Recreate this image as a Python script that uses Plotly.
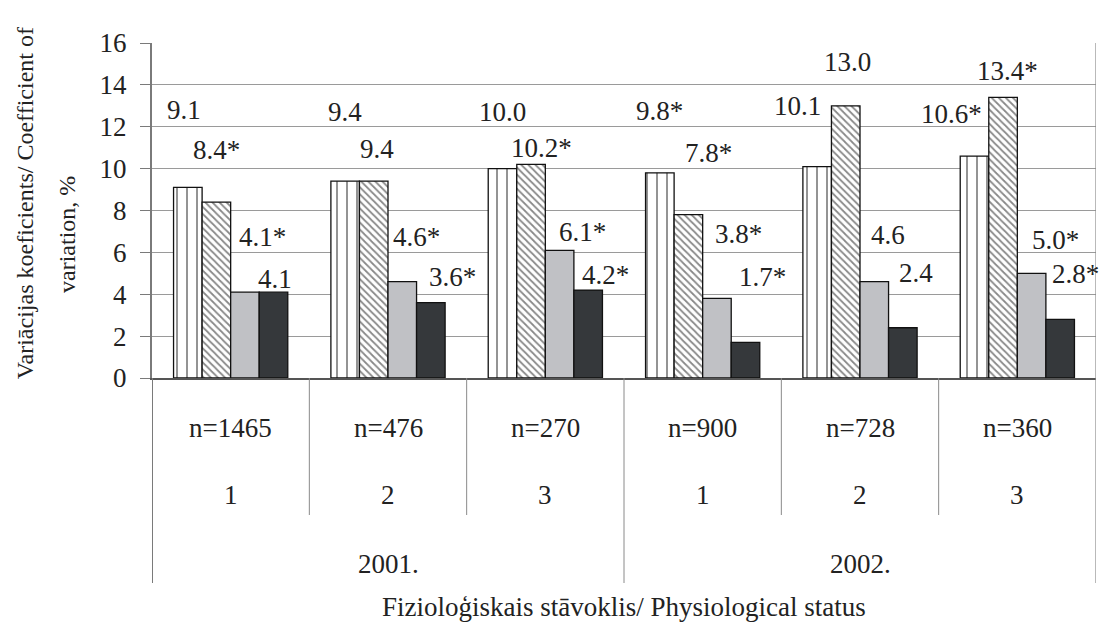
import plotly.graph_objects as go

# ---- data ----
groups = ["n=1465", "n=476", "n=270", "n=900", "n=728", "n=360"]
status = ["1", "2", "3", "1", "2", "3"]
years = ["2001.", "2002."]

s1_values = [9.1, 9.4, 10.0, 9.8, 10.1, 10.6]
s2_values = [8.4, 9.4, 10.2, 7.8, 13.0, 13.4]
s3_values = [4.1, 4.6, 6.1, 3.8, 4.6, 5.0]
s4_values = [4.1, 3.6, 4.2, 1.7, 2.4, 2.8]

s1_labels = ["9.1", "9.4", "10.0", "9.8*", "10.1", "10.6*"]
s2_labels = ["8.4*", "9.4", "10.2*", "7.8*", "13.0", "13.4*"]
s3_labels = ["4.1*", "4.6*", "6.1*", "3.8*", "4.6", "5.0*"]
s4_labels = ["4.1", "3.6*", "4.2*", "1.7*", "2.4", "2.8*"]

y_ticks = [0, 2, 4, 6, 8, 10, 12, 14, 16]

# ---- label placement (as in the original, labels were moved by hand) ----
s1_lab_y = [12.8, 12.7, 12.7, 12.75, 13.0, 12.6]
s2_lab_y = [10.9, 10.94, 10.98, 10.77, 15.07, 14.66]
s3_lab_y = [6.75, 6.73, 6.99, 6.88, 6.83, 6.59]
s4_lab_y = [4.73, 4.82, 4.92, 4.84, 5.01, 4.97]
s1_lab_dx = [-4, 0, 0, 0, -20, -23]
s2_lab_dx = [0, 3, 10, 20, 2, 4]
s3_lab_dx = [18, 14, 23, 22, 14, 24]
s4_lab_dx = [1, 22, 17, 17, 13, 15]

FONT = "Liberation Serif"
TXT = "#222222"
FS = 27

xs = list(range(len(groups)))
bargap = 0.274

fig = go.Figure()
line = dict(color="#111111", width=1.3)
fig.add_trace(go.Bar(x=xs, y=s1_values, marker=dict(color="white", line=line,
                     pattern=dict(shape="|", fgcolor="#111111", bgcolor="white", size=10, solidity=0.18))))
fig.add_trace(go.Bar(x=xs, y=s2_values, marker=dict(color="white", line=line,
                     pattern=dict(shape="\\", fgcolor="#111111", bgcolor="white", size=5, solidity=0.35))))
fig.add_trace(go.Bar(x=xs, y=s3_values, marker=dict(color="#c0c1c5", line=line)))
fig.add_trace(go.Bar(x=xs, y=s4_values, marker=dict(color="#35383b", line=line)))

w = (1 - bargap) / 4
offsets = [-1.5 * w, -0.5 * w, 0.5 * w, 1.5 * w]
annotations = []
for k, (labs, ly, ldx) in enumerate([(s1_labels, s1_lab_y, s1_lab_dx),
                                      (s2_labels, s2_lab_y, s2_lab_dx),
                                      (s3_labels, s3_lab_y, s3_lab_dx),
                                      (s4_labels, s4_lab_y, s4_lab_dx)]):
    for i in range(len(groups)):
        annotations.append(dict(x=xs[i] + offsets[k], y=ly[i], xref="x", yref="y",
                                text=labs[i], showarrow=False, xshift=ldx[i],
                                xanchor="center", yanchor="middle",
                                font=dict(family=FONT, size=FS, color=TXT)))

# table under the axis
for i in range(len(groups)):
    annotations.append(dict(x=xs[i], y=0, xref="x", yref="paper", yshift=-50,
                            text=groups[i], showarrow=False, yanchor="middle",
                            font=dict(family=FONT, size=FS, color=TXT)))
    annotations.append(dict(x=xs[i], y=0, xref="x", yref="paper", yshift=-117,
                            text=status[i], showarrow=False, yanchor="middle",
                            font=dict(family=FONT, size=FS, color=TXT)))
for j, yr in enumerate(years):
    annotations.append(dict(x=1 + 3 * j, y=0, xref="x", yref="paper", yshift=-186,
                            text=yr, showarrow=False, yanchor="middle",
                            font=dict(family=FONT, size=FS, color=TXT)))
annotations.append(dict(x=0.5, y=0, xref="paper", yref="paper", yshift=-229,
                        text="Fizioloģiskais stāvoklis/ Physiological status",
                        showarrow=False, yanchor="middle",
                        font=dict(family=FONT, size=FS, color=TXT)))
annotations.append(dict(x=0, y=0.522, xref="paper", yref="paper", xshift=-127,
                        text="Variācijas koeficients/ Coefficient of", textangle=-90,
                        showarrow=False, xanchor="center", yanchor="middle",
                        font=dict(family=FONT, size=24, color=TXT)))
annotations.append(dict(x=0, y=0.427, xref="paper", yref="paper", xshift=-85,
                        text="variation, %", textangle=-90,
                        showarrow=False, xanchor="center", yanchor="middle",
                        font=dict(family=FONT, size=24, color=TXT)))

plot_h = 626 - 43 - 248
shapes = []
inner_len = -137 / plot_h
outer_len = -205 / plot_h
for xb in [0.5, 1.5, 3.5, 4.5]:
    shapes.append(dict(type="line", xref="x", yref="paper", x0=xb, x1=xb, y0=0, y1=inner_len,
                       line=dict(color="#8a8a8a", width=1)))
for xb in [2.5]:
    shapes.append(dict(type="line", xref="x", yref="paper", x0=xb, x1=xb, y0=0, y1=outer_len,
                       line=dict(color="#8a8a8a", width=1)))
shapes.append(dict(type="line", xref="x", yref="paper", x0=5.5, x1=5.5, y0=1, y1=outer_len,
                   line=dict(color="#8a8a8a", width=1.2)))
shapes.append(dict(type="line", xref="x", yref="paper", x0=-0.5, x1=-0.5, y0=0, y1=outer_len,
                   line=dict(color="#7a7a7a", width=2)))

fig.update_layout(
    width=1101, height=626,
    margin=dict(l=152, r=5, t=43, b=248),
    paper_bgcolor="white", plot_bgcolor="white",
    barmode="group", bargap=bargap, bargroupgap=0,
    showlegend=False,
    annotations=annotations, shapes=shapes,
    xaxis=dict(range=[-0.5, 5.5], showticklabels=False, showgrid=False, zeroline=False,
               showline=True, linecolor="#555555", linewidth=1.5, ticks=""),
    yaxis=dict(range=[0, 16], tickvals=y_ticks, showgrid=True, gridcolor="#9a9a9a",
               gridwidth=1.4, zeroline=False, showline=True, linecolor="#7a7a7a",
               linewidth=2, ticks="outside", ticklen=10, tickcolor="#7a7a7a",
               tickwidth=1.4, ticklabelstandoff=8,
               tickfont=dict(family=FONT, size=FS, color=TXT)),
)

fig.write_html("out.html", config={"displayModeBar": False},
               post_script="document.body.style.margin='0';document.body.style.overflow='hidden';")
